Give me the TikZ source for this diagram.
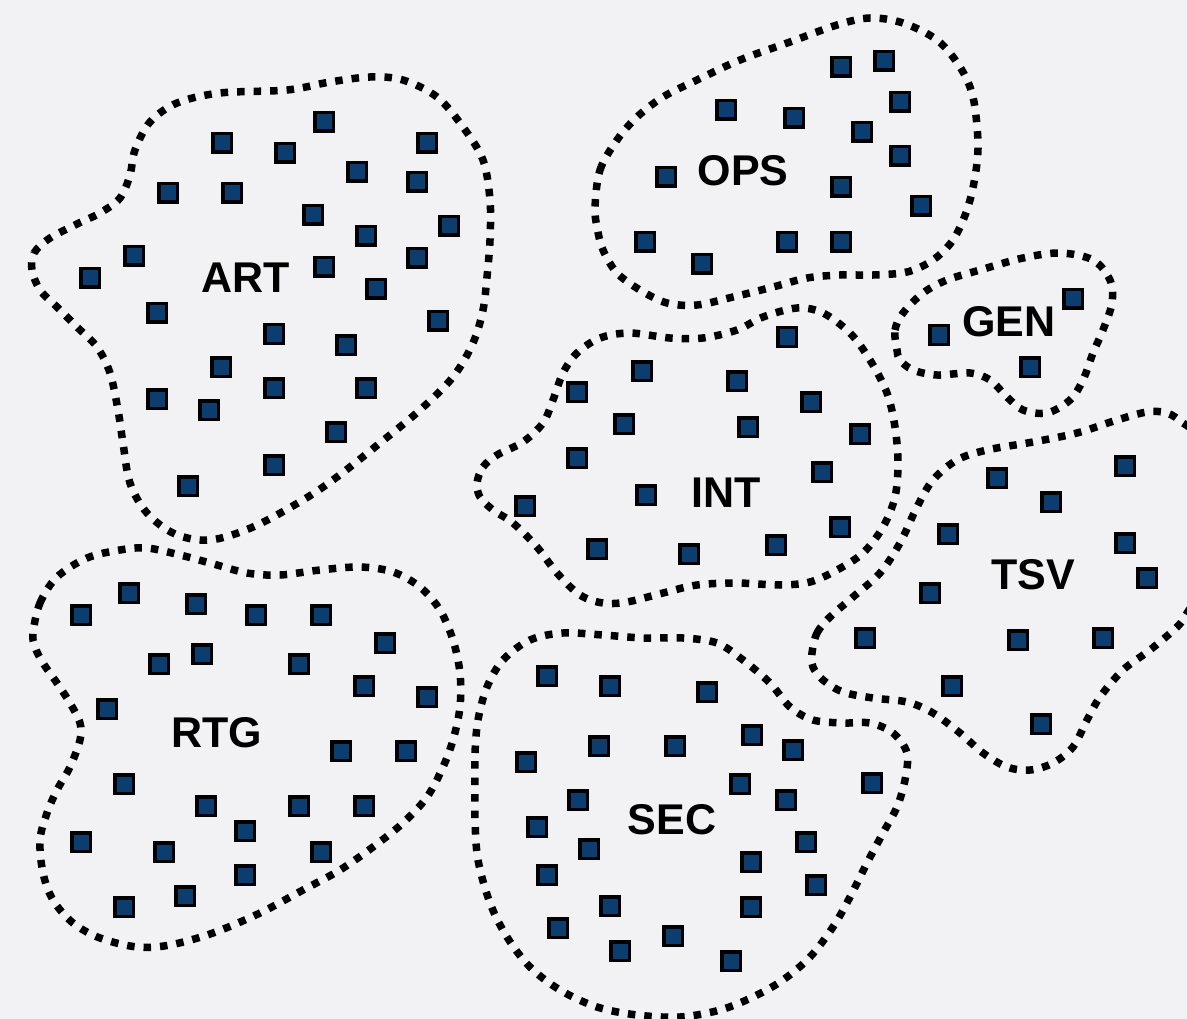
\documentclass[tikz,border=0pt]{standalone}
\usepackage{fontspec}
\setmainfont{Liberation Sans}
\definecolor{bgc}{HTML}{F2F2F4}
\definecolor{sqblue}{HTML}{0B3D6F}
\begin{document}
\begin{tikzpicture}[x=1pt,y=-1pt,
  blob/.style={draw=black, line width=7.5pt, dash pattern=on 7.5pt off 9pt},
  sq/.style={rectangle, draw=black, line width=3.5pt, fill=sqblue, minimum size=18.5pt, inner sep=0pt},
  lab/.style={font=\bfseries\fontsize{43}{43}\selectfont, inner sep=0pt}]
\fill[bgc] (0,0) rectangle (1187,1019);
\useasboundingbox (0,0) rectangle (1187,1019);
\clip (0,0) rectangle (1187,1019);

% ---------- blobs ----------
\draw[blob] plot[smooth cycle, tension=0.55] coordinates {
(32,270) (34,253) (50,238) (77,224) (100,213) (120,198) (130,175) (135,150) (150,122) (177,103) (220,93) (287,90) (330,82) (370,77) (403,80) (437,97) (463,127) (483,160) (490,200) (490,240) (487,277) (483,310) (473,343) (453,377) (420,410) (380,443) (337,477) (303,500) (253,527) (210,540) (175,534) (147,513) (130,483) (123,443) (118,410) (110,373) (97,347) (77,327) (57,307) (40,290)};

\draw[blob] plot[smooth cycle, tension=0.55] coordinates {
(595,207) (600,170) (617,140) (637,117) (663,97) (697,80) (740,60) (790,42) (837,25) (870,18) (903,23) (937,40) (960,67) (973,97) (978,143) (975,177) (967,210) (953,240) (933,260) (907,272) (873,275) (840,275) (807,278) (773,287) (733,297) (697,305) (667,303) (640,290) (617,273) (603,250) (597,227)};

\draw[blob] plot[smooth cycle, tension=0.55] coordinates {
(897,350) (895,330) (903,313) (923,293) (947,280) (980,270) (1023,258) (1060,253) (1093,260) (1110,280) (1112,303) (1103,330) (1093,353) (1083,380) (1070,400) (1047,413) (1023,410) (1007,397) (990,380) (970,373) (937,375) (913,370) (900,360)};

\draw[blob] plot[smooth cycle, tension=0.55] coordinates {
(477,483) (483,467) (497,455) (523,442) (543,423) (553,400) (563,373) (577,353) (600,338) (630,333) (670,338) (703,338) (737,330) (763,317) (797,308) (823,313) (850,333) (870,360) (887,393) (895,427) (898,463) (895,497) (883,527) (863,553) (837,570) (810,582) (780,585) (737,583) (697,585) (663,593) (627,602) (603,603) (580,595) (557,573) (537,547) (513,523) (493,510) (480,497)};

\draw[blob] plot[smooth cycle, tension=0.55] coordinates {
(812,653) (817,633) (830,617) (853,597) (880,573) (900,543) (917,507) (933,480) (957,460) (987,450) (1033,442) (1077,433) (1117,420) (1147,412) (1167,413) (1183,423) (1200,440) (1210,500) (1205,580) (1187,613) (1177,627) (1150,650) (1123,670) (1100,697) (1087,720) (1073,747) (1053,763) (1030,770) (1007,767) (983,753) (960,733) (933,713) (907,702) (873,698) (843,692) (823,680) (813,667)};

\draw[blob] plot[smooth cycle, tension=0.55] coordinates {
(33,633) (40,603) (57,577) (87,558) (120,550) (147,548) (180,555) (210,563) (247,573) (280,575) (320,570) (360,567) (393,572) (420,587) (440,610) (453,640) (460,673) (460,707) (453,740) (443,767) (427,797) (403,823) (373,847) (340,870) (303,890) (260,913) (213,933) (170,945) (137,947) (100,938) (73,923) (53,900) (43,873) (40,840) (47,813) (57,790) (70,767) (80,740) (80,723) (70,703) (57,683) (43,663) (35,647)};

\draw[blob] plot[smooth cycle, tension=0.55] coordinates {
(475,787) (475,753) (478,720) (487,687) (503,660) (530,640) (563,633) (603,635) (643,638) (683,638) (717,643) (743,660) (770,683) (790,707) (813,720) (843,723) (870,723) (893,733) (907,753) (905,780) (897,807) (883,833) (867,863) (850,897) (833,927) (810,957) (783,980) (753,997) (720,1010) (680,1017) (637,1015) (597,1007) (560,990) (530,967) (507,937) (490,903) (478,860) (475,820)};

% ---------- squares ----------
\foreach \x/\y [count=\i] in {222/143,285/153,324/122,427/143,357/172,417/182,168/193,232/193,313/215,366/236,449/226,134/256,90/278,324/267,417/258,376/289,157/313,438/321,274/334,346/345,221/367,157/399,209/410,274/388,366/388,336/432,274/465,188/486}
  \node[sq] (art\i) at (\x,\y) {};
\foreach \x/\y [count=\i] in {841/67,884/61,726/110,794/118,900/102,862/132,900/156,666/177,841/187,921/206,645/242,702/264,787/242,841/242}
  \node[sq] (ops\i) at (\x,\y) {};
\foreach \x/\y [count=\i] in {939/335,1073/299,1030/367}
  \node[sq] (gen\i) at (\x,\y) {};
\foreach \x/\y [count=\i] in {787/337,642/371,577/392,737/381,811/402,624/424,748/427,860/434,577/458,822/472,646/495,525/506,597/549,689/554,776/545,840/527}
  \node[sq] (int\i) at (\x,\y) {};
\foreach \x/\y [count=\i] in {997/478,1125/466,1051/502,948/534,1125/543,1147/578,930/593,865/638,1018/640,1103/638,952/686,1041/724}
  \node[sq] (tsv\i) at (\x,\y) {};
\foreach \x/\y [count=\i] in {81/615,129/593,196/604,256/615,321/615,385/643,159/664,202/654,299/664,364/686,427/697,107/709,341/751,406/751,124/784,206/806,299/806,364/806,245/831,81/842,164/852,321/852,245/875,185/896,124/907}
  \node[sq] (rtg\i) at (\x,\y) {};
\foreach \x/\y [count=\i] in {547/676,610/686,707/692,752/735,793/750,599/746,675/746,526/762,740/784,786/800,872/783,578/800,537/827,589/849,751/862,806/842,547/875,816/885,610/906,751/907,558/928,620/951,673/936,731/961}
  \node[sq] (sec\i) at (\x,\y) {};

% ---------- labels ----------
\node[lab] (artL) at (246,278) {ART};
\node[lab] (opsL) at (743,171) {OPS};
\node[lab] (genL) at (1009,322) {GEN};
\node[lab] (intL) at (726,493) {INT};
\node[lab] (tsvL) at (1033,575) {TSV};
\node[lab] (rtgL) at (217,733) {RTG};
\node[lab] (secL) at (672,820) {SEC};
\end{tikzpicture}
\end{document}
